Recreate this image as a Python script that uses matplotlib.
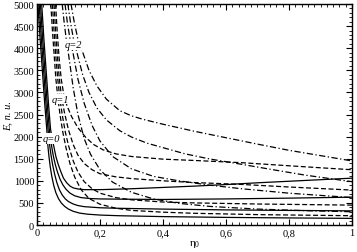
import numpy as np
import matplotlib
matplotlib.use("Agg")
from matplotlib import pyplot as plt
from matplotlib.ticker import MultipleLocator, FixedLocator, FixedFormatter

plt.rcParams['font.family'] = ['Liberation Serif', 'DejaVu Serif']
plt.rcParams['mathtext.fontset'] = 'stix'

# q=0 (solid) curves
s1_eta = [0.015, 0.022, 0.03, 0.037, 0.043, 0.049, 0.054, 0.06, 0.067, 0.075, 0.084, 0.095,
          0.105, 0.115, 0.13, 0.15, 0.2, 0.3, 0.4, 0.5, 0.6, 0.7, 0.8, 0.9, 1.0]
s1_E = [5000, 4200, 3400, 2700, 2170, 1920, 1760, 1550, 1380, 1220, 1060, 950,
        880, 840, 815, 800, 800, 820, 850, 880, 915, 955, 990, 1025, 1060]
s2_eta = [0.011, 0.018, 0.026, 0.033, 0.039, 0.043, 0.047, 0.052, 0.058, 0.065, 0.073, 0.082,
          0.092, 0.105, 0.12, 0.14, 0.17, 0.2, 0.26, 0.4, 0.6, 0.8, 1.0]
s2_E = [5000, 4200, 3400, 2700, 2170, 1950, 1760, 1560, 1370, 1200, 1040, 910,
        810, 720, 660, 620, 598, 590, 585, 578, 590, 608, 630]
s3_eta = [0.007, 0.014, 0.022, 0.029, 0.035, 0.038, 0.041, 0.045, 0.05, 0.056, 0.063, 0.071,
          0.08, 0.09, 0.1, 0.115, 0.13, 0.15, 0.2, 0.26, 0.4, 0.6, 0.8, 1.0]
s3_E = [5000, 4200, 3400, 2700, 2170, 1950, 1760, 1560, 1350, 1150, 960, 800,
        680, 590, 530, 475, 440, 415, 390, 378, 360, 342, 330, 320]
s4_eta = [0.003, 0.010, 0.018, 0.025, 0.031, 0.033, 0.035, 0.038, 0.042, 0.047, 0.053, 0.06,
          0.068, 0.077, 0.088, 0.1, 0.115, 0.135, 0.16, 0.2, 0.26, 0.4, 0.6, 0.8, 1.0]
s4_E = [5000, 4200, 3400, 2700, 2170, 1950, 1760, 1550, 1320, 1100, 900, 730,
        600, 500, 420, 360, 310, 270, 245, 225, 210, 190, 172, 160, 150]

# q=1 (dashed) curves
d1_eta = [0.059, 0.064, 0.07, 0.077, 0.085, 0.095, 0.11, 0.13, 0.155, 0.18, 0.21, 0.25,
          0.3, 0.4, 0.5, 0.65, 0.8, 1.0]
d1_E = [5000, 4400, 3800, 3300, 2950, 2700, 2450, 2200, 1980, 1820, 1700, 1610,
        1550, 1490, 1460, 1410, 1340, 1250]
d2_eta = [0.054, 0.059, 0.065, 0.071, 0.078, 0.087, 0.1, 0.115, 0.13, 0.15, 0.175, 0.2,
          0.25, 0.3, 0.4, 0.5, 0.644, 0.8, 1.0]
d2_E = [5000, 4400, 3800, 3300, 2900, 2550, 2150, 1820, 1580, 1390, 1250, 1160,
        1090, 1050, 1000, 960, 920, 860, 790]
d3_eta = [0.049, 0.054, 0.06, 0.066, 0.072, 0.08, 0.09, 0.1, 0.115, 0.13, 0.15, 0.175,
          0.2, 0.25, 0.3, 0.4, 0.5, 0.7, 1.0]
d3_E = [5000, 4400, 3800, 3300, 2900, 2500, 2100, 1800, 1450, 1200, 980, 820,
        720, 620, 570, 520, 500, 475, 450]
d4_eta = [0.044, 0.049, 0.055, 0.06, 0.066, 0.073, 0.082, 0.092, 0.105, 0.12, 0.14, 0.165,
          0.2, 0.25, 0.3, 0.4, 0.5, 0.7, 1.0]
d4_E = [5000, 4400, 3800, 3300, 2900, 2500, 2100, 1750, 1380, 1080, 800, 600,
        470, 380, 330, 290, 265, 235, 210]

# q=2 (dash-dot) curves
dd1_eta = [0.108, 0.118, 0.13, 0.147, 0.165, 0.19, 0.22, 0.263, 0.3, 0.337, 0.4, 0.5,
           0.6, 0.7, 0.8, 0.9, 1.0]
dd1_E = [5000, 4600, 4200, 3870, 3500, 3150, 2850, 2585, 2470, 2390, 2280, 2120,
         1975, 1830, 1690, 1570, 1450]
dd2_eta = [0.098, 0.106, 0.116, 0.128, 0.145, 0.165, 0.19, 0.22, 0.263, 0.3, 0.35, 0.4,
           0.47, 0.549, 0.644, 0.75, 0.85, 1.0]
dd2_E = [5000, 4600, 4200, 3870, 3400, 3000, 2650, 2380, 2133, 1990, 1850, 1750,
         1610, 1493, 1380, 1250, 1130, 980]
dd3_eta = [0.089, 0.096, 0.105, 0.115, 0.13, 0.15, 0.175, 0.2, 0.24, 0.3, 0.37, 0.45,
           0.55, 0.65, 0.8, 1.0]
dd3_E = [5000, 4600, 4200, 3870, 3300, 2750, 2250, 1900, 1550, 1270, 1100, 1000,
         900, 820, 720, 620]
dd4_eta = [0.080, 0.086, 0.093, 0.1, 0.115, 0.13, 0.15, 0.17, 0.2, 0.24, 0.3, 0.37,
           0.45, 0.55, 0.7, 0.85, 1.0]
dd4_E = [5000, 4600, 4200, 3870, 3100, 2500, 1950, 1600, 1250, 970, 740, 590,
         490, 420, 360, 325, 300]

x_ticks = [0, 0.2, 0.4, 0.6, 0.8, 1.0]
x_labels = ['0', '0,2', '0,4', '0,6', '0,8', '1']
y_ticks = [0, 500, 1000, 1500, 2000, 2500, 3000, 3500, 4000, 4500, 5000]

fig = plt.figure(figsize=(3.57, 2.53), dpi=100)
ax = fig.add_axes([0.1036, 0.1067, 0.8824, 0.8735])

lw = 0.9
for xs, ys in [(s1_eta, s1_E), (s2_eta, s2_E), (s3_eta, s3_E), (s4_eta, s4_E)]:
    ax.plot(xs, ys, color='black', lw=lw, ls='-')
for xs, ys in [(d1_eta, d1_E), (d2_eta, d2_E), (d3_eta, d3_E), (d4_eta, d4_E)]:
    ax.plot(xs, ys, color='black', lw=lw, dashes=(4, 2))
for xs, ys in [(dd1_eta, dd1_E), (dd2_eta, dd2_E), (dd3_eta, dd3_E), (dd4_eta, dd4_E)]:
    ax.plot(xs, ys, color='black', lw=lw, dashes=(5, 2, 1, 2))

# family labels sit on white boxes that interrupt the curves
box = dict(facecolor='white', edgecolor='none', pad=0.5)
ax.text(0.047, 1960, 'q=0', fontsize=7.5, style='italic', ha='center', va='center', bbox=box)
ax.text(0.074, 2850, 'q=1', fontsize=7.5, style='italic', ha='center', va='center', bbox=box)
ax.text(0.117, 4080, 'q=2', fontsize=7.5, style='italic', ha='center', va='center', bbox=box)

ax.set_xlim(0, 1)
ax.set_ylim(0, 5000)
ax.xaxis.set_major_locator(FixedLocator(x_ticks))
ax.xaxis.set_major_formatter(FixedFormatter(x_labels))
ax.yaxis.set_major_locator(FixedLocator(y_ticks))
ax.xaxis.set_minor_locator(MultipleLocator(0.02))
ax.yaxis.set_minor_locator(MultipleLocator(100))
ax.tick_params(which='both', direction='in', top=True, right=True, labelsize=7.5, pad=2)
ax.tick_params(which='major', length=4, width=0.8)
ax.tick_params(which='minor', length=2, width=0.6)
for sp in ax.spines.values():
    sp.set_linewidth(1.0)

ax.set_xlabel(r'$\mathregular{\eta_0}$', fontsize=8, labelpad=1)
ax.set_ylabel('E, n. u.', fontsize=7.5, style='italic', labelpad=1)

fig.savefig('out.png', dpi=100)
